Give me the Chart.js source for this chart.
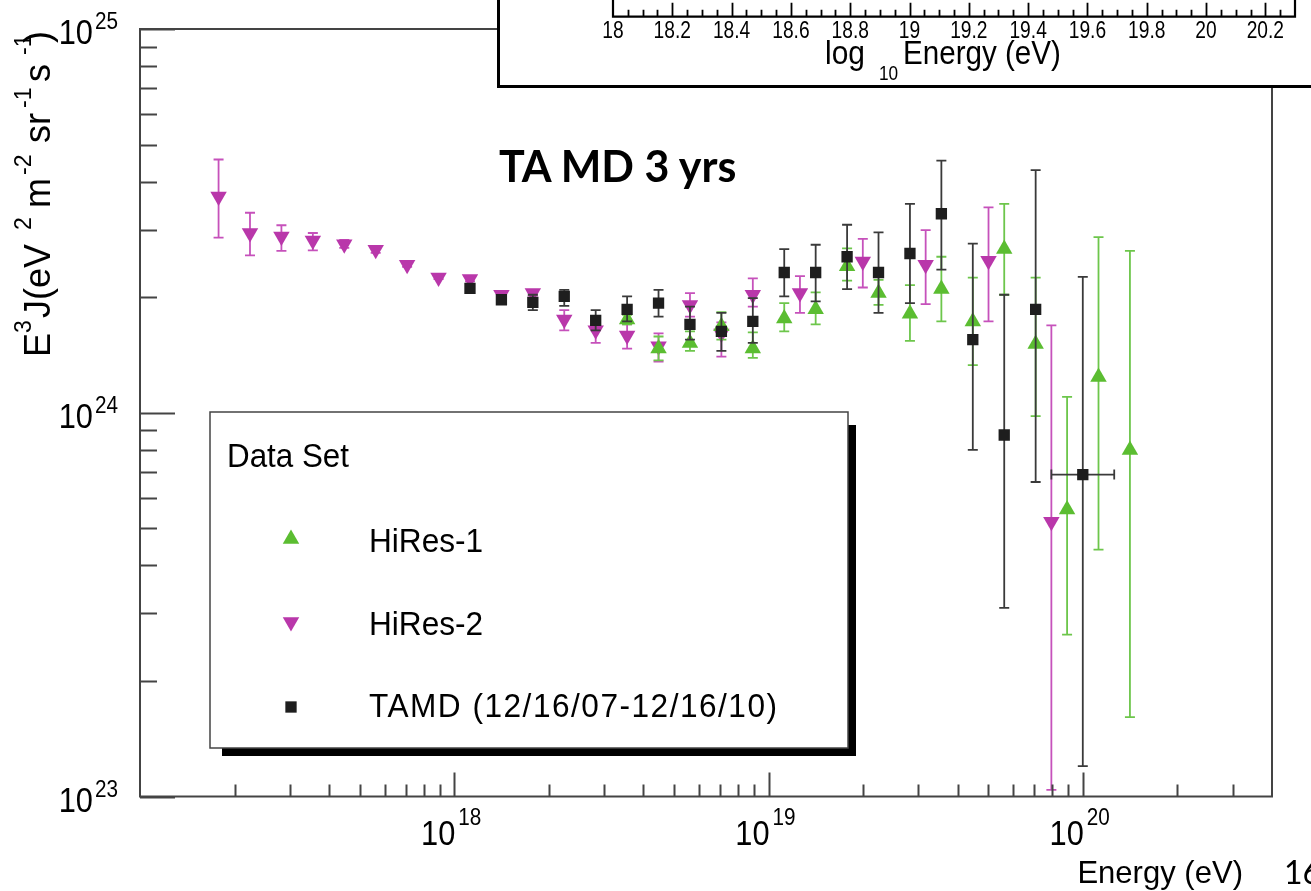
<!DOCTYPE html>
<html><head><meta charset="utf-8">
<script src="https://cdn.jsdelivr.net/npm/chart.js@4.4.1/dist/chart.umd.min.js"></script>
<style>
html,body{margin:0;padding:0;background:#fff;}
#wrap{position:relative;width:1311px;height:891px;overflow:hidden;background:#fff;}
#main{position:absolute;left:0;top:0;}
#inset{position:absolute;left:497px;top:-3px;width:830px;height:91px;border-left:3px solid #000;border-bottom:3px solid #000;background:#fff;overflow:hidden;box-sizing:border-box;}
#insetCanvas{position:absolute;left:0;top:-300px;}
.note{position:absolute;font-family:Lato,'Open Sans',sans-serif;color:#000;white-space:nowrap;line-height:1;}
</style></head>
<body>
<div id="wrap">
  <canvas id="main" width="1311" height="891"></canvas>
  <div id="inset"><canvas id="insetCanvas" width="840" height="400"></canvas></div>
  <div class="note" style="left:499px;top:144px;font-size:43px;font-weight:700;">TA MD 3 yrs</div>
  <div class="note" style="left:1284px;top:856px;font-size:32px;">16</div>
</div>
<script>
// ---------------- DATA (energies as log10(E/eV), fluxes in units of 1e24 eV^2 m^-2 sr^-1 s^-1) ----------------
const hires1LogE = [18.55,18.65,18.75,18.85,18.95,19.05,19.15,19.25,19.35,19.45,19.55,19.65,19.75,19.85,19.95,20.05,20.15];
const hires1Val  = [1.75,1.47,1.52,1.68,1.47,1.76,1.86,2.41,2.05,1.81,2.10,1.73,2.67,1.51,0.56,1.24,0.80];
const hires1Hi   = [1.80,1.58,1.63,1.83,1.62,1.93,2.06,2.68,2.22,2.15,2.55,2.25,3.50,2.25,1.10,2.87,2.64];
const hires1Lo   = [1.70,1.37,1.45,1.55,1.39,1.63,1.70,2.21,1.91,1.54,1.73,1.33,2.03,0.98,0.264,0.44,0.161];

const hires2LogE = [17.25,17.35,17.45,17.55,17.65,17.75,17.85,17.95,18.05,18.15,18.25,18.35,18.45,18.55,18.65,18.75,18.85,18.95,19.1,19.3,19.5,19.7,19.9];
const hires2Val  = [3.66,2.94,2.88,2.81,2.75,2.66,2.43,2.25,2.23,2.03,2.05,1.75,1.64,1.59,1.49,1.91,1.61,2.03,2.05,2.48,2.43,2.49,0.52];
const hires2Hi   = [4.57,3.32,3.08,2.94,2.82,2.70,2.46,2.28,2.26,2.06,2.08,1.85,1.69,1.70,1.61,2.05,1.72,2.24,2.27,2.84,2.99,3.43,1.69];
const hires2Lo   = [2.86,2.57,2.64,2.65,2.69,2.61,2.40,2.23,2.20,2.00,2.02,1.64,1.52,1.47,1.36,1.78,1.40,1.89,1.82,2.12,1.92,1.73,0.104];

const tamdLogE = [18.05,18.15,18.25,18.35,18.45,18.55,18.65,18.75,18.85,18.95,19.05,19.15,19.25,19.35,19.45,19.55,19.65,19.75,19.85,20.0];
const tamdVal  = [2.11,1.97,1.94,2.01,1.74,1.86,1.93,1.70,1.63,1.73,2.32,2.32,2.55,2.32,2.60,3.30,1.55,0.875,1.86,0.69];
const tamdHi   = [2.15,2.00,2.03,2.09,1.85,2.01,2.09,1.89,1.82,1.99,2.67,2.74,3.09,2.95,3.50,4.54,2.76,2.03,4.29,2.26];
const tamdLo   = [2.07,1.93,1.85,1.90,1.64,1.73,1.78,1.55,1.45,1.52,2.01,1.95,2.10,1.82,1.93,2.36,0.80,0.31,0.66,0.12];
const tamdLogELo = [null,null,null,null,null,null,null,null,null,null,null,null,null,null,null,null,null,null,null,19.9];
const tamdLogEHi = [null,null,null,null,null,null,null,null,null,null,null,null,null,null,null,null,null,null,null,20.1];

const seriesLabels = ['HiRes-1','HiRes-2','TAMD (12/16/07-12/16/10)'];
const legendTitle = 'Data Set';
const xTickExps = [18,19,20];
const yTickExps = [23,24,25];
const insetTickValues = [18,18.2,18.4,18.6,18.8,19,19.2,19.4,19.6,19.8,20,20.2];
const insetTickLabels = ['18','18.2','18.4','18.6','18.8','19','19.2','19.4','19.6','19.8','20','20.2'];

// ---------------- helpers ----------------
const UNIT = 1e24;
function mk(logE, val, lo, hi, xlo, xhi) {
  return logE.map((l, i) => {
    const p = { x: Math.pow(10, l), y: val[i] * UNIT, yMin: lo[i] * UNIT, yMax: hi[i] * UNIT };
    if (xlo && xlo[i] != null) { p.xMin = Math.pow(10, xlo[i]); p.xMax = Math.pow(10, xhi[i]); }
    return p;
  });
}
const FONT = "'Liberation Sans', Arial, Helvetica, sans-serif";
const AX = '#444';
const GREEN = '#5bbd31', GREEN_ERR = '#6dc64b';
const MAG = '#b937aa', MAG_ERR = '#c651bb';
const BLK = '#1e1e1e', BLK_ERR = '#3a3a3a';

function drawMarker(ctx, style, rot, r, x, y, color) {
  ctx.fillStyle = color;
  ctx.beginPath();
  if (style === 'triangle') {
    let rad = rot * Math.PI / 180;
    for (let k = 0; k < 3; k++) {
      const px = x + Math.sin(rad) * r, py = y - Math.cos(rad) * r;
      if (k) ctx.lineTo(px, py); else ctx.moveTo(px, py);
      rad += 2 * Math.PI / 3;
    }
    ctx.closePath();
  } else {
    const s = Math.SQRT1_2 * r;
    ctx.rect(x - s, y - s, 2 * s, 2 * s);
  }
  ctx.fill();
}
// condensed text helper (ROOT-style narrow lettering)
function ctext(ctx, t, x, y, size, align, sx) {
  ctx.save();
  ctx.font = size + 'px ' + FONT;
  const w = ctx.measureText(t).width * sx;
  let x0 = x;
  if (align === 'right') x0 = x - w; else if (align === 'center') x0 = x - w / 2;
  ctx.translate(x0, y); ctx.scale(sx, 1);
  ctx.textAlign = 'left';
  ctx.fillText(t, 0, 0);
  ctx.restore();
  return w;
}

const datasets = [
  { label: seriesLabels[2], data: mk(tamdLogE, tamdVal, tamdLo, tamdHi, tamdLogELo, tamdLogEHi),
    pointStyle: 'rect', pointRotation: 0, pointRadius: 8, pointBorderWidth: 0,
    backgroundColor: BLK, borderColor: BLK, errColor: BLK_ERR, order: 0, showLine: false },
  { label: seriesLabels[0], data: mk(hires1LogE, hires1Val, hires1Lo, hires1Hi),
    pointStyle: 'triangle', pointRotation: 0, pointRadius: 9.5, pointBorderWidth: 0,
    backgroundColor: GREEN, borderColor: GREEN, errColor: GREEN_ERR, order: 1, showLine: false },
  { label: seriesLabels[1], data: mk(hires2LogE, hires2Val, hires2Lo, hires2Hi),
    pointStyle: 'triangle', pointRotation: 180, pointRadius: 9.5, pointBorderWidth: 0,
    backgroundColor: MAG, borderColor: MAG, errColor: MAG_ERR, order: 2, showLine: false }
];

const mainPlugin = {
  id: 'mainDeco',
  beforeDatasetDraw(chart, args) {
    const ds = chart.data.datasets[args.index];
    const { ctx, chartArea: a, scales: { x, y } } = chart;
    ctx.save();
    ctx.beginPath(); ctx.rect(a.left, a.top, a.right - a.left, a.bottom - a.top); ctx.clip();
    ctx.strokeStyle = ds.errColor; ctx.lineWidth = 1.8;
    const cap = 5;
    ds.data.forEach(p => {
      const px = x.getPixelForValue(p.x);
      const yt = y.getPixelForValue(p.yMax), yb = y.getPixelForValue(p.yMin);
      ctx.beginPath();
      ctx.moveTo(px, yt); ctx.lineTo(px, yb);
      ctx.moveTo(px - cap, yt); ctx.lineTo(px + cap, yt);
      ctx.moveTo(px - cap, yb); ctx.lineTo(px + cap, yb);
      if (p.xMin != null) {
        const py = y.getPixelForValue(p.y);
        const xl = x.getPixelForValue(p.xMin), xr = x.getPixelForValue(p.xMax);
        ctx.moveTo(xl, py); ctx.lineTo(xr, py);
        ctx.moveTo(xl, py - cap); ctx.lineTo(xl, py + cap);
        ctx.moveTo(xr, py - cap); ctx.lineTo(xr, py + cap);
      }
      ctx.stroke();
    });
    ctx.restore();
  },
  afterDraw(chart) {
    const { ctx, chartArea: a, scales: { x, y } } = chart;
    ctx.save();
    // frame
    ctx.strokeStyle = AX; ctx.lineWidth = 2;
    ctx.strokeRect(a.left, a.top, a.right - a.left, a.bottom - a.top);
    // y ticks (inward)
    ctx.beginPath();
    for (let e = yTickExps[0]; e <= yTickExps[yTickExps.length - 1]; e++) {
      for (let m = 1; m <= 9; m++) {
        const v = m * Math.pow(10, e);
        if (v > y.max * 1.0001) break;
        const py = Math.round(y.getPixelForValue(v)) + 0.5;
        const len = m === 1 ? 35 : 17;
        ctx.moveTo(a.left, py); ctx.lineTo(a.left + len, py);
      }
    }
    // x ticks (inward)
    for (let e = 17; e <= 20; e++) {
      for (let m = 1; m <= 9; m++) {
        const v = m * Math.pow(10, e);
        if (v <= x.min * 1.0001 || v >= x.max * 0.9999) continue;
        const px = Math.round(x.getPixelForValue(v)) + 0.5;
        const len = m === 1 ? 24 : 12;
        ctx.moveTo(px, a.bottom); ctx.lineTo(px, a.bottom - len);
      }
    }
    ctx.stroke();
    // tick labels
    ctx.fillStyle = '#000'; ctx.textBaseline = 'alphabetic';
    yTickExps.forEach(e => {
      const py = y.getPixelForValue(Math.pow(10, e));
      ctext(ctx, '10', 93, py + 15, 35, 'right', 0.88);
      ctext(ctx, String(e), 95, py, 23, 'left', 0.9);
    });
    xTickExps.forEach(e => {
      const px = x.getPixelForValue(Math.pow(10, e));
      ctext(ctx, '10', px + 1, a.bottom + 48.5, 35, 'right', 0.88);
      ctext(ctx, String(e), px + 4, a.bottom + 28.5, 23, 'left', 0.9);
    });
    // x title
    ctext(ctx, 'Energy (eV)', 1243, 883, 32, 'right', 0.97);
    // y title (rotated, with superscripts)
    const segs = [['E',357,0],['3',333,1],['J(eV',318,0],['2',230,1],['m',208,0],['-2',175,1],['sr',143,0],['-1',108,1],['s',82,0],['-1',55,1],[')',43,0]];
    ctx.textAlign = 'left';
    segs.forEach(([t, yy, sup]) => {
      ctx.save();
      ctx.translate(sup ? 31 : 50, yy);
      ctx.rotate(-Math.PI / 2);
      ctx.font = (sup ? '23px ' : '36px ') + FONT;
      ctx.fillText(t, 0, 0);
      ctx.restore();
    });
    // legend
    ctx.fillStyle = '#000';
    ctx.fillRect(848, 425, 8, 331);
    ctx.fillRect(222, 748, 634, 8);
    ctx.fillStyle = '#fff'; ctx.fillRect(210, 412, 638, 336);
    ctx.strokeStyle = AX; ctx.lineWidth = 1.5; ctx.strokeRect(210, 412, 638, 336);
    ctx.fillStyle = '#000';
    ctext(ctx, legendTitle, 227, 467, 33, 'left', 0.95);
    const order = [1, 2, 0];
    const my = [539, 622, 707], ty = [552, 635, 717];
    order.forEach((di, k) => {
      const ds = chart.data.datasets[di];
      drawMarker(ctx, ds.pointStyle, ds.pointRotation, ds.pointRadius, 291, my[k], ds.backgroundColor);
      ctx.fillStyle = '#000';
      if (k === 2) { try { ctx.letterSpacing = '1.6px'; } catch (e) {} }
      ctext(ctx, ds.label, 369, ty[k], 34, 'left', 0.93);
      try { ctx.letterSpacing = '0px'; } catch (e) {}
    });
    ctx.restore();
  }
};

new Chart(document.getElementById('main'), {
  type: 'scatter',
  data: { datasets },
  options: {
    responsive: false, animation: false, events: [],
    layout: { padding: { top: 29, right: 39, left: 0, bottom: 0 } },
    plugins: { legend: { display: false }, tooltip: { enabled: false } },
    scales: {
      x: { type: 'logarithmic', min: 1e17, max: 4e20,
           ticks: { display: false }, grid: { display: false, drawTicks: false }, border: { display: false },
           afterFit: s => { s.height = 94.5; } },
      y: { type: 'logarithmic', min: 1e23, max: 1e25,
           ticks: { display: false }, grid: { display: false, drawTicks: false }, border: { display: false },
           afterFit: s => { s.width = 140; } }
    }
  },
  plugins: [mainPlugin]
});

// ---------------- inset (partial, only its log10 Energy axis visible) ----------------
const insetPlugin = {
  id: 'insetDeco',
  afterDraw(chart) {
    const { ctx, chartArea: a, scales: { x } } = chart;
    ctx.save();
    ctx.strokeStyle = '#000'; ctx.lineWidth = 2.2;
    ctx.beginPath();
    ctx.moveTo(a.left, a.top); ctx.lineTo(a.left, a.bottom); ctx.lineTo(a.right, a.bottom); ctx.lineTo(a.right, a.top);
    ctx.stroke();
    ctx.lineWidth = 1.8;
    ctx.beginPath();
    for (let k = 1; k * 0.05 < (x.max - x.min) - 1e-9; k++) {
      const v = x.min + k * 0.05;
      const px = Math.round(x.getPixelForValue(v)) + 0.5;
      const len = (k % 4 === 0) ? 14 : 7;
      ctx.moveTo(px, a.bottom); ctx.lineTo(px, a.bottom - len);
    }
    ctx.stroke();
    // tick labels (condensed)
    ctx.fillStyle = '#000'; ctx.textBaseline = 'alphabetic';
    insetTickValues.forEach((v, i) => {
      ctext(ctx, insetTickLabels[i], x.getPixelForValue(v), a.bottom + 21, 24, 'center', 0.8);
    });
    // axis title: log_10 Energy (eV)
    const by = a.bottom + 47;
    ctext(ctx, 'log', 825 - 500, by, 34, 'left', 0.88);
    ctext(ctx, '10', 879 - 500, by + 16, 21, 'left', 0.82);
    ctext(ctx, 'Energy (eV)', 903 - 500, by, 34, 'left', 0.87);
    ctx.restore();
  }
};

new Chart(document.getElementById('insetCanvas'), {
  type: 'scatter',
  data: { datasets: [] },
  options: {
    responsive: false, animation: false, events: [],
    layout: { padding: { left: 113, right: 45, top: 10, bottom: 0 } },
    plugins: { legend: { display: false }, tooltip: { enabled: false } },
    scales: {
      x: { type: 'linear', min: 18, max: 20.3,
           afterBuildTicks: s => { s.ticks = insetTickValues.map(v => ({ value: v })); },
           ticks: { display: false },
           grid: { display: false, drawTicks: false }, border: { display: false },
           afterFit: s => { s.height = 80.3; } },
      y: { display: false, min: 0, max: 1 }
    }
  },
  plugins: [insetPlugin]
});
</script>
</body></html>
